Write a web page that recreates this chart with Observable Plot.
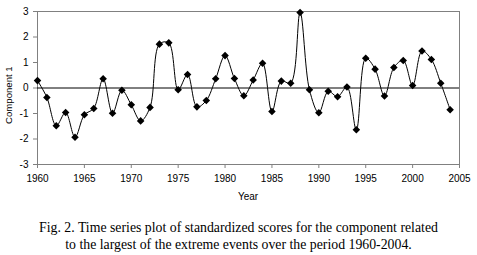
<!DOCTYPE html>
<html>
<head>
<meta charset="utf-8">
<script src="https://cdn.jsdelivr.net/npm/d3@7"></script>
<script src="https://cdn.jsdelivr.net/npm/@observablehq/plot@0.6"></script>
<style>
  body { margin: 0; background: #fff; }
  #chart svg { display: block; }
  #caption { font-family: "Liberation Serif", "Times New Roman", serif; font-size: 13.8px; line-height: 17px; text-align: center; padding-top: 14px; color: #000; width: 477px; }
</style>
</head>
<body>
<div id="chart"></div>
<div id="caption">Fig. 2. Time series plot of standardized scores for the component related<br>to the largest of the extreme events over the period 1960-2004.</div>
<script>
const years = d3.range(1960, 2005);
const component1 = [
  0.29, -0.37, -1.48, -0.96, -1.93, -1.05, -0.80, 0.36, -0.99, -0.09,
  -0.66, -1.29, -0.76, 1.72, 1.77, -0.07, 0.53, -0.74, -0.49, 0.36,
  1.27, 0.37, -0.30, 0.31, 0.97, -0.92, 0.27, 0.19, 2.96, -0.07,
  -0.97, -0.13, -0.34, 0.04, -1.64, 1.17, 0.74, -0.31, 0.80, 1.08,
  0.10, 1.45, 1.12, 0.19, -0.85
];
const xTicks = [1960, 1965, 1970, 1975, 1980, 1985, 1990, 1995, 2000, 2005];
const yTicks = [-3, -2, -1, 0, 1, 2, 3];
const yLabel = "Component 1";
const xLabel = "Year";
const yLabelAt = -0.3;

const data = years.map((y, i) => ({year: y, value: component1[i]}));

const W = 477, H = 205, ML = 37, MR = 18, MT = 11, MB = 41;

const plot = Plot.plot({
  width: W,
  height: H,
  marginLeft: ML,
  marginRight: MR,
  marginTop: MT,
  marginBottom: MB,
  style: {fontFamily: "'Liberation Sans', Arial, sans-serif", fontSize: "10px", color: "#000", background: "#fff"},
  x: {domain: [1960, 2005]},
  y: {domain: [-3, 3]},
  marks: [
    Plot.frame({stroke: "#808080"}),
    Plot.axisX({ticks: xTicks, tickFormat: d => String(d), tickSize: 4, tickPadding: 6, stroke: "#808080", label: null, fill: "#000"}),
    Plot.axisY({ticks: yTicks, tickFormat: d => d < 0 ? "-" + Math.abs(d) : String(d), tickSize: 4, tickPadding: 5, stroke: "#808080", label: null, fill: "#000"}),
    Plot.ruleY([0], {stroke: "#000", strokeWidth: 1}),
    Plot.line(data, {x: "year", y: "value", curve: "catmull-rom", stroke: "#000", strokeWidth: 1}),
    Plot.dot(data, {x: "year", y: "value", symbol: "diamond2", r: 3.4, fill: "#000", stroke: "none"})
  ]
});
document.getElementById("chart").appendChild(plot);

const svg = d3.select(plot);
const xs = plot.scale("x"), ys = plot.scale("y");
const cx = (xs.apply(1960) + xs.apply(2005)) / 2;
svg.append("text")
  .attr("x", cx).attr("y", ys.apply(-3) + 33)
  .attr("text-anchor", "middle").attr("dominant-baseline", "middle")
  .attr("font-size", 10).attr("fill", "#000")
  .text(xLabel);
svg.append("text")
  .attr("transform", `translate(${xs.apply(1960) - 28},${ys.apply(yLabelAt)}) rotate(-90)`)
  .attr("text-anchor", "middle").attr("dominant-baseline", "middle")
  .attr("font-size", 9.6).attr("fill", "#000")
  .text(yLabel);
</script>
</body>
</html>
